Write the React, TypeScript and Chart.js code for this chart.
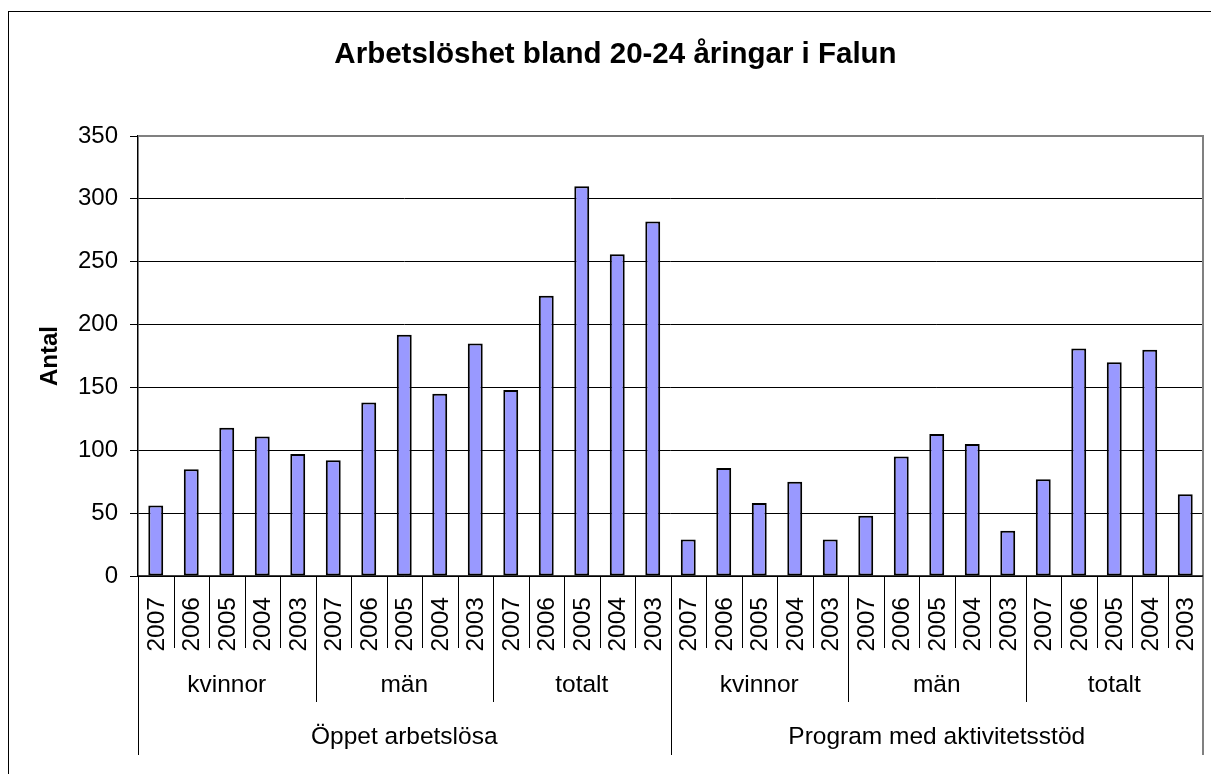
import React, { useEffect, useRef } from "react";
import { Chart, registerables } from "chart.js";

Chart.register(...registerables);

const chartTitle = "Arbetslöshet bland 20-24 åringar i Falun";
const yAxisTitle = "Antal";
const years = ["2007", "2006", "2005", "2004", "2003"];
const groups = ["kvinnor", "män", "totalt"];
const sections = ["Öppet arbetslösa", "Program med aktivitetsstöd"];

const oppetKvinnor = [56, 85, 118, 111, 97];
const oppetMan = [92, 138, 192, 145, 185];
const oppetTotalt = [148, 223, 310, 256, 282];
const programKvinnor = [29, 86, 58, 75, 29];
const programMan = [48, 95, 113, 105, 36];
const programTotalt = [77, 181, 170, 180, 65];

const yTicks = [0, 50, 100, 150, 200, 250, 300, 350];

const FONT = "'Liberation Sans', Arial, sans-serif";

export default function App() {
  const ref = useRef<HTMLCanvasElement | null>(null);

  useEffect(() => {
    const canvas = ref.current;
    if (!canvas) return;

    const labels: string[] = [];
    sections.forEach(() => {
      groups.forEach(() => {
        years.forEach((y) => {
          labels.push(y);
        });
      });
    });
    const values = [
      ...oppetKvinnor,
      ...oppetMan,
      ...oppetTotalt,
      ...programKvinnor,
      ...programMan,
      ...programTotalt,
    ];

    const decor = {
      id: "decor",
      afterDraw(chart: any) {
        const ctx = chart.ctx as CanvasRenderingContext2D;
        const area = chart.chartArea;
        const xs = chart.scales.x;
        const n = labels.length;
        ctx.save();

        // outer chart border
        ctx.strokeStyle = "#000";
        ctx.lineWidth = 1;
        ctx.strokeRect(8.5, 11.5, 1400, 1000);

        // title
        ctx.fillStyle = "#000";
        ctx.font = `bold 29.5px ${FONT}`;
        ctx.textAlign = "center";
        ctx.textBaseline = "alphabetic";
        ctx.fillText(chartTitle, 615.5, 63);

        // y axis title
        ctx.save();
        ctx.translate(50, (area.top + area.bottom) / 2);
        ctx.rotate(-Math.PI / 2);
        ctx.font = `bold 24px ${FONT}`;
        ctx.textAlign = "center";
        ctx.textBaseline = "middle";
        ctx.fillText(yAxisTitle, 0, 0);
        ctx.restore();

        // plot area top & right border (gray)
        ctx.strokeStyle = "#808080";
        ctx.lineWidth = 2;
        ctx.beginPath();
        ctx.moveTo(area.left, area.top);
        ctx.lineTo(area.right, area.top);
        ctx.lineTo(area.right, area.bottom);
        ctx.stroke();

        // category boundaries
        const bound = (k: number) => {
          if (k === 0) return area.left;
          if (k === n) return area.right;
          return (xs.getPixelForValue(k - 1) + xs.getPixelForValue(k)) / 2;
        };
        for (let k = 0; k <= n; k++) {
          const x = Math.round(bound(k)) + 0.5;
          let bottom = 648;
          if (k % 15 === 0) bottom = 755;
          else if (k % 5 === 0) bottom = 702;
          ctx.strokeStyle = k === n ? "#808080" : "#000";
          ctx.lineWidth = k === n ? 2 : 1;
          ctx.beginPath();
          ctx.moveTo(k === n ? area.right : x, area.bottom);
          ctx.lineTo(k === n ? area.right : x, bottom);
          ctx.stroke();
        }

        // x axis line
        ctx.strokeStyle = "#000";
        ctx.lineWidth = 1.5;
        ctx.beginPath();
        ctx.moveTo(area.left, area.bottom);
        ctx.lineTo(area.right, area.bottom);
        ctx.stroke();

        // year labels (rotated)
        ctx.fillStyle = "#000";
        ctx.font = `24.5px ${FONT}`;
        for (let i = 0; i < n; i++) {
          const cx = xs.getPixelForValue(i);
          ctx.save();
          ctx.translate(cx + 1, 597);
          ctx.rotate(-Math.PI / 2);
          ctx.textAlign = "right";
          ctx.textBaseline = "middle";
          ctx.fillText(labels[i], 0, 0);
          ctx.restore();
        }

        // group labels
        ctx.textAlign = "center";
        ctx.textBaseline = "middle";
        for (let gi = 0; gi < sections.length * groups.length; gi++) {
          const x0 = bound(gi * years.length);
          const x1 = bound((gi + 1) * years.length);
          ctx.fillText(groups[gi % groups.length], (x0 + x1) / 2, 685);
        }
        // section labels
        const per = groups.length * years.length;
        for (let s = 0; s < sections.length; s++) {
          const x0 = bound(s * per);
          const x1 = bound((s + 1) * per);
          ctx.fillText(sections[s], (x0 + x1) / 2, 737);
        }
        ctx.restore();
      },
    };

    const chart = new Chart(canvas, {
      type: "bar",
      data: {
        labels,
        datasets: [
          {
            label: "Antal",
            data: values,
            backgroundColor: "#9999FF",
            borderColor: "#000000",
            borderWidth: 2,
            borderSkipped: false,
            barPercentage: 0.42,
            categoryPercentage: 1.0,
          },
        ],
      },
      options: {
        responsive: false,
        animation: false,
        events: [],
        layout: { padding: { left: 0, top: 136, right: 8, bottom: 198 } },
        plugins: {
          legend: { display: false },
          title: { display: false },
          tooltip: { enabled: false },
        },
        scales: {
          x: {
            display: false,
            offset: true,
          },
          y: {
            min: 0,
            max: 350,
            afterFit: (scale: any) => {
              scale.width = 138;
            },
            afterBuildTicks: (scale: any) => {
              scale.ticks = yTicks.map((v) => ({ value: v }));
            },
            ticks: {
              color: "#000",
              padding: 12,
              font: { family: FONT, size: 24 },
            },
            grid: {
              color: (c: any) => (c.tick && c.tick.value === 350 ? "#808080" : "#000"),
              lineWidth: 1,
              tickLength: 8,
              tickColor: "#000",
              drawTicks: true,
            },
            border: { display: true, color: "#000", width: 1.5 },
          },
        },
      },
      plugins: [decor],
    });

    return () => chart.destroy();
  }, []);

  return (
    <div style={{ position: "fixed", left: 0, top: 0, width: 1211, height: 774, background: "#fff" }}>
      <canvas ref={ref} width={1211} height={774} style={{ display: "block" }} />
    </div>
  );
}
